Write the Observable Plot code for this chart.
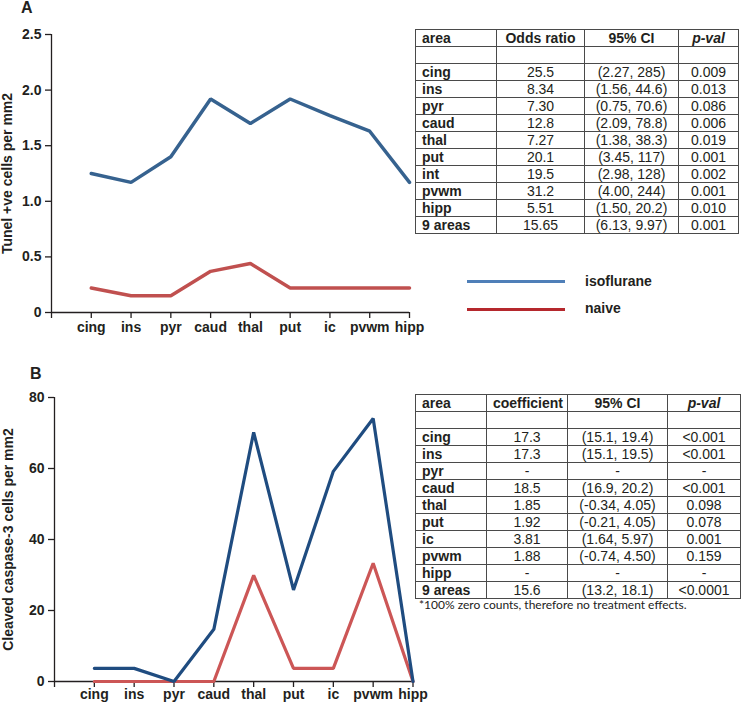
<!DOCTYPE html>
<html><head><meta charset="utf-8">
<script src="https://cdn.jsdelivr.net/npm/d3@7"></script>
<script src="https://cdn.jsdelivr.net/npm/@observablehq/plot@0.6"></script>
<style>
body{margin:0;background:#fff;}
#root{position:relative;width:741px;height:702px;overflow:hidden;font-family:"Liberation Sans",Arial,sans-serif;color:#231f20;}
.abs{position:absolute;}
table{border-collapse:collapse;font-size:14px;table-layout:fixed;font-family:"Liberation Sans",Arial,sans-serif;color:#231f20;}
td{border:1px solid #4a4a4a;height:16px;padding:0 6px;line-height:16px;text-align:center;white-space:nowrap;overflow:hidden;}
td.a{text-align:left;font-weight:bold;}
tr.h td{font-weight:bold;}
td.p{font-style:italic;}
.panel{font-weight:bold;font-size:16px;line-height:15px;}
.leg{font-weight:bold;font-size:14px;line-height:16px;}
.note{font-family:Lato,"Open Sans",sans-serif;font-size:12px;color:#222;}
</style>
</head><body>
<div id="root"></div>
<script>
// ---------- data ----------
const areas = ["cing","ins","pyr","caud","thal","put","ic","pvwm","hipp"];
const tunelIso   = [1.25, 1.17, 1.40, 1.92, 1.70, 1.92, 1.77, 1.63, 1.17];
const tunelNaive = [0.22, 0.15, 0.15, 0.37, 0.44, 0.22, 0.22, 0.22, 0.22];
const caspIso    = [3.7, 3.7, 0, 14.7, 70.2, 25.8, 59.2, 74.1, 0];
const caspNaive  = [0, 0, 0, 0, 29.9, 3.7, 3.7, 33.3, 0];
const tunelTicks = [0, 0.5, 1.0, 1.5, 2.0, 2.5];
const caspTicks  = [0, 20, 40, 60, 80];
const seriesNames = ["isoflurane", "naive"];

const tableAHeader = ["area", "Odds ratio", "95% CI", "p-val"];
const tableAArea = ["cing","ins","pyr","caud","thal","put","int","pvwm","hipp","9 areas"];
const tableAOR   = ["25.5","8.34","7.30","12.8","7.27","20.1","19.5","31.2","5.51","15.65"];
const tableACI   = ["(2.27, 285)","(1.56, 44.6)","(0.75, 70.6)","(2.09, 78.8)","(1.38, 38.3)","(3.45, 117)","(2.98, 128)","(4.00, 244)","(1.50, 20.2)","(6.13, 9.97)"];
const tableAP    = ["0.009","0.013","0.086","0.006","0.019","0.001","0.002","0.001","0.010","0.001"];

const tableBHeader = ["area", "coefficient", "95% CI", "p-val"];
const tableBArea = ["cing","ins","pyr","caud","thal","put","ic","pvwm","hipp","9 areas"];
const tableBCoef = ["17.3","17.3","-","18.5","1.85","1.92","3.81","1.88","-","15.6"];
const tableBCI   = ["(15.1, 19.4)","(15.1, 19.5)","-","(16.9, 20.2)","(-0.34, 4.05)","(-0.21, 4.05)","(1.64, 5.97)","(-0.74, 4.50)","-","(13.2, 18.1)"];
const tableBP    = ["<0.001","<0.001","-","<0.001","0.098","0.078","0.001","0.159","-","<0.0001"];
const footnote = "*100% zero counts, therefore no treatment effects.";

// ---------- helpers ----------
const root = document.getElementById("root");
function place(el, left, top) {
  const d = document.createElement("div");
  d.className = "abs"; d.style.left = left + "px"; d.style.top = top + "px";
  d.appendChild(el); root.appendChild(d); return d;
}
const idx = d3.range(0, areas.length + 1);
const xFormat = i => i === 0 ? "" : areas[i - 1];

function chart({iso, naive, yDomain, yTicks, yFmt, label, isoColor, naiveColor, sw,
                width, height, mL, mR, mT, mB, labelOffset, xPad}) {
  const rowsIso = iso.map((v, i) => ({i: i + 1, v}));
  const rowsNaive = naive.map((v, i) => ({i: i + 1, v}));
  return Plot.plot({
    width, height, marginLeft: mL, marginRight: mR, marginTop: mT, marginBottom: mB,
    style: "font-family:'Liberation Sans',Arial,sans-serif;font-size:14px;font-weight:bold;color:#231f20;background:transparent;overflow:visible;",
    x: {type: "linear", domain: [0, areas.length]},
    y: {domain: yDomain},
    marks: [
      Plot.axisY({ticks: yTicks, tickFormat: yFmt, tickSize: 6, tickPadding: 4, strokeWidth: 1.3, label: null}),
      Plot.text([label], {frameAnchor: "left", text: d => d, rotate: -90, dx: -labelOffset, textAnchor: "middle", fill: "#231f20"}),
      Plot.axisX({ticks: idx, tickFormat: xFormat, tickSize: 6, tickPadding: xPad, strokeWidth: 1.3, label: null}),
      Plot.ruleY([0], {stroke: "#231f20", strokeWidth: 1.3}),
      Plot.ruleX([0], {stroke: "#231f20", strokeWidth: 1.3}),
      Plot.lineY(rowsNaive, {x: "i", y: "v", stroke: naiveColor, strokeWidth: sw, strokeLinejoin: "miter"}),
      Plot.lineY(rowsIso, {x: "i", y: "v", stroke: isoColor, strokeWidth: sw, strokeLinejoin: "miter"})
    ]
  });
}

// ---------- panel A ----------
const chartA = chart({iso: tunelIso, naive: tunelNaive, yDomain: [0, 2.5], yTicks: tunelTicks,
  yFmt: d => d === 0 ? "0" : d.toFixed(1), label: "Tunel +ve cells per mm2",
  isoColor: "#36628f", naiveColor: "#c0504f", sw: 3.5,
  width: 741, height: 345, mL: 51, mR: 332, mT: 34, mB: 33, labelOffset: 44, xPad: 4});
place(chartA, 0, 0);

// ---------- panel B ----------
const chartB = chart({iso: caspIso, naive: caspNaive, yDomain: [0, 80], yTicks: caspTicks,
  yFmt: d => String(d), label: "Cleaved caspase-3 cells per mm2",
  isoColor: "#1f4c80", naiveColor: "#cc5656", sw: 3.2,
  width: 741, height: 362, mL: 54, mR: 328.5, mT: 57, mB: 21, labelOffset: 46, xPad: 2});
place(chartB, 0, 340);

// panel letters
const la = document.createElement("div"); la.className = "panel"; la.textContent = "A"; place(la, 21, 0);
const lb = document.createElement("div"); lb.className = "panel"; lb.textContent = "B"; place(lb, 30, 366);

// ---------- legend ----------
const legendColors = ["#4f7fb8", "#b5282d"];
function legendItem(name, color, top) {
  const line = document.createElement("div");
  line.style.cssText = `width:98px;height:3px;background:${color}`;
  place(line, 467, top - 1.5);
  const t = document.createElement("div"); t.className = "leg"; t.textContent = name;
  place(t, 585, top - 9);
}
legendItem(seriesNames[0], legendColors[0], 281.5);
legendItem(seriesNames[1], legendColors[1], 309);

// ---------- tables ----------
function makeTable(header, cols, widths) {
  const t = document.createElement("table");
  const cg = document.createElement("colgroup");
  widths.forEach(w => { const c = document.createElement("col"); c.style.width = w + "px"; cg.appendChild(c); });
  t.appendChild(cg);
  t.style.width = d3.sum(widths) + "px";
  const hr = t.insertRow(); hr.className = "h";
  header.forEach((h, j) => { const c = hr.insertCell(); c.textContent = h; if (j === 0) c.className = "a"; if (j === 3) c.classList.add("p"); });
  const er = t.insertRow(); header.forEach(() => er.insertCell());
  cols[0].forEach((_, r) => {
    const row = t.insertRow();
    cols.forEach((col, j) => { const c = row.insertCell(); c.textContent = col[r]; if (j === 0) c.className = "a"; });
  });
  return t;
}
place(makeTable(tableAHeader, [tableAArea, tableAOR, tableACI, tableAP], [81, 88, 94, 60]), 415, 29);
place(makeTable(tableBHeader, [tableBArea, tableBCoef, tableBCI, tableBP], [71, 81, 100, 73]), 415, 394);
const fn = document.createElement("div"); fn.className = "note"; fn.textContent = footnote; place(fn, 419, 597);
</script>
</body></html>
